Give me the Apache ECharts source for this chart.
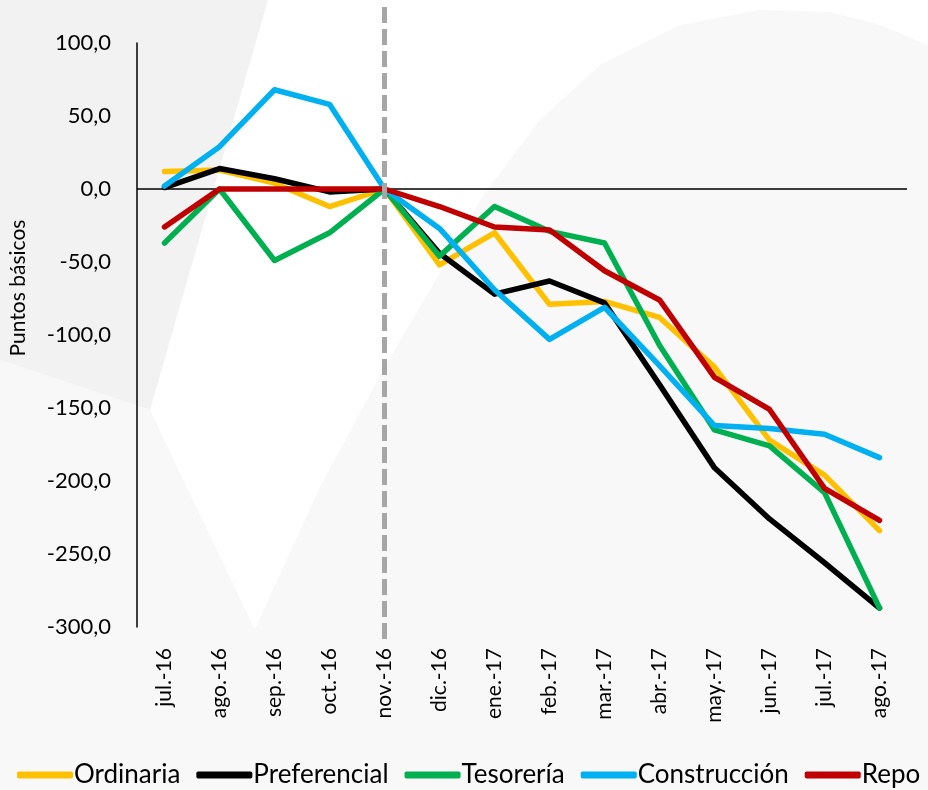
<!DOCTYPE html>
<html>
<head>
<meta charset="utf-8">
<script src="https://cdn.jsdelivr.net/npm/echarts@6/dist/echarts.min.js"></script>
<style>
  html, body { margin: 0; padding: 0; background: #ffffff; }
  #chart { width: 928px; height: 790px; }
</style>
</head>
<body>
<div id="chart"></div>
<script>
// Diferencial de tasas (puntos básicos)
var meses = ['jul.-16', 'ago.-16', 'sep.-16', 'oct.-16', 'nov.-16', 'dic.-16', 'ene.-17',
             'feb.-17', 'mar.-17', 'abr.-17', 'may.-17', 'jun.-17', 'jul.-17', 'ago.-17'];

var ordinaria    = [12, 13, 4, -12, 0, -52, -30, -79, -77, -88, -122, -172, -196, -234];
var preferencial = [1, 14, 7, -2, 0, -44, -72, -63, -78, -134, -191, -226, -256, -287];
var tesoreria    = [-37, 0, -49, -30, 0, -46, -12, -29, -37, -107, -165, -176, -208, -287];
var construccion = [2, 29, 68, 58, 0, -27, -69, -103, -81, -121, -162, -164, -168, -184];
var repo         = [-26, 0, 0, 0, 0, -12, -26, -28, -56, -76, -129, -151, -205, -227];

var corte = 'nov.-16';   // linea vertical punteada

var FONT = 'Lato, "Open Sans", sans-serif';

var myChart = echarts.init(document.getElementById('chart'));

function linea(nombre, datos, color) {
    return {
        name: nombre,
        type: 'line',
        data: datos,
        symbol: 'none',
        lineStyle: { color: color, width: 5.5, cap: 'round', join: 'round' },
        itemStyle: { color: color }
    };
}

var series = [
    linea('Ordinaria', ordinaria, '#FFC000'),
    linea('Preferencial', preferencial, '#000000'),
    linea('Tesorería', tesoreria, '#00B050'),
    linea('Construcción', construccion, '#00B0F0'),
    linea('Repo', repo, '#C00000')
];

// linea del cero
series[0].markLine = {
    silent: true,
    symbol: 'none',
    label: { show: false },
    lineStyle: { color: '#000', width: 1.5, type: 'solid' },
    data: [{ yAxis: 0 }],
    z: 1
};

var option = {
    backgroundColor: '#ffffff',
    animation: false,
    textStyle: { fontFamily: FONT },
    grid: { left: 137, right: 21, top: 43, bottom: 163 },
    legend: {
        left: 12,
        bottom: -3,
        width: 1400,
        itemWidth: 56,
        itemHeight: 7,
        itemGap: 16,
        icon: 'roundRect',
        textStyle: { fontSize: 26, color: '#000', fontFamily: FONT, padding: [0, 0, 0, -4] },
        data: ['Ordinaria', 'Preferencial', 'Tesorería', 'Construcción', 'Repo']
    },
    xAxis: {
        type: 'category',
        data: meses,
        boundaryGap: true,
        axisLine: { show: false },
        axisTick: { show: false },
        axisLabel: { rotate: 90, fontSize: 21, color: '#000', margin: 21, interval: 0 }
    },
    yAxis: {
        type: 'value',
        min: -300,
        max: 100,
        interval: 50,
        axisLine: { show: true, lineStyle: { color: '#000', width: 1.5 } },
        axisTick: { show: false },
        splitLine: { show: false },
        axisLabel: {
            fontSize: 22,
            color: '#000',
            margin: 26,
            formatter: function (v) { return v.toFixed(1).replace('.', ','); }
        }
    },
    series: series
};

myChart.setOption(option);

// fondo decorativo y linea punteada
var xCorte = myChart.convertToPixel({ xAxisIndex: 0 }, corte);
myChart.setOption({
    graphic: [
        {
            type: 'polygon', z: -10, silent: true,
            shape: { points: [[0, 0], [268, 0], [150, 410], [0, 360]] },
            style: { fill: '#f2f2f2' }
        },
        {
            type: 'polygon', z: -10, silent: true,
            shape: { points: [[0, 360], [150, 410], [255, 630], [235, 790], [0, 790]] },
            style: { fill: '#f8f8f8' }
        },
        {
            type: 'polygon', z: -10, silent: true,
            shape: {
                points: [[430, 290], [480, 200], [540, 120], [600, 65], [680, 25],
                         [760, 10], [830, 12], [880, 25], [928, 45], [928, 790],
                         [215, 790], [227, 733], [253, 633], [320, 487], [387, 363]]
            },
            style: { fill: '#f8f8f8' }
        },
        {
            type: 'text', silent: true,
            x: 8, y: 288, rotation: Math.PI / 2,
            style: {
                text: 'Puntos básicos', fontSize: 21, fill: '#000',
                fontFamily: FONT, align: 'center', verticalAlign: 'top'
            }
        },
        {
            type: 'line', silent: true, z: 100,
            shape: { x1: xCorte, y1: 7, x2: xCorte, y2: 640 },
            style: { stroke: '#a6a6a6', lineWidth: 5, lineDash: [16, 6] }
        }
    ]
});
</script>
</body>
</html>
